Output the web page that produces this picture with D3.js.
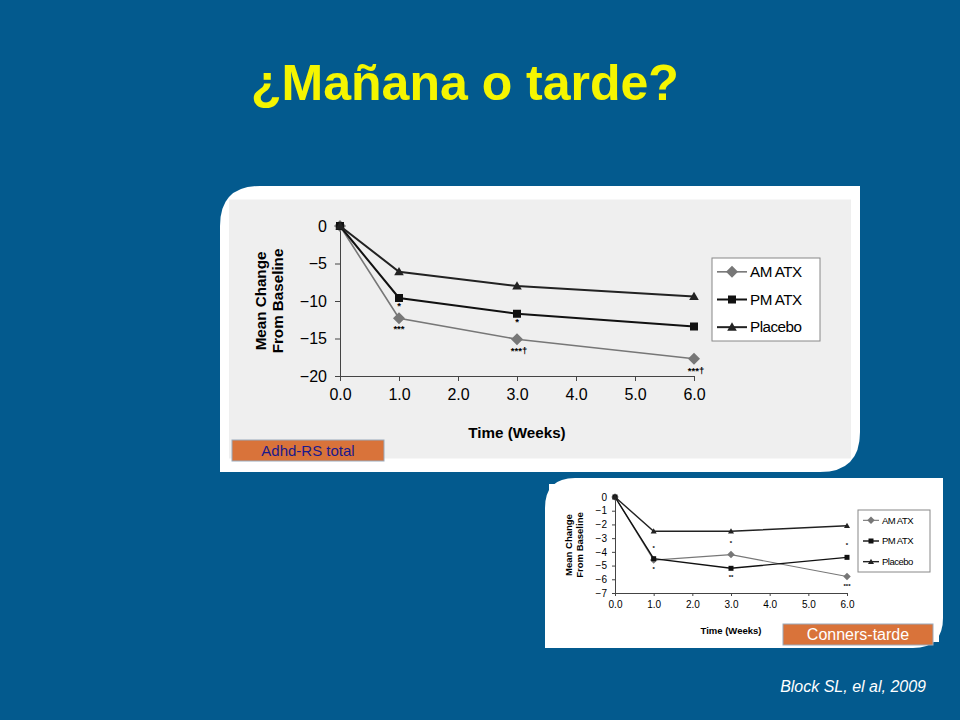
<!DOCTYPE html><html><head><meta charset="utf-8"><script src="https://cdn.jsdelivr.net/npm/d3@7"></script>
<style>body{margin:0;background:#035a8e}svg{display:block}text{font-family:Arial,"Liberation Sans",sans-serif}</style></head><body>
<svg id="s" width="960" height="720"></svg>
<script>
const weeks=[0,1,3,6];
const seriesNames=["AM ATX","PM ATX","Placebo"];
const adhdAM=[0,-12.3,-15.1,-17.7], adhdPM=[0,-9.6,-11.7,-13.4], adhdPl=[0,-6.1,-8.0,-9.4];
const adhdMarks=[[1,-12.3,"***",14],[1,-9.6,"*",11],[3,-11.7,"*",11],[3,-15.1,"***†",15],[6,-17.7,"***†",15]];
const connAM=[0,-4.6,-4.2,-5.8], connPM=[0,-4.5,-5.2,-4.4], connPl=[0,-2.5,-2.5,-2.1];
const connMarks=[[1,-4.5,"*",-9],[1,-4.6,"*",11],[3,-4.2,"*",-10],[3,-5.2,"**",11],[6,-4.4,"*",-10],[6,-5.8,"***",11]];
const xTicks=[0,1,2,3,4,5,6];
const adhdYTicks=[0,-5,-10,-15,-20], connYTicks=[0,-1,-2,-3,-4,-5,-6,-7];
const svg=d3.select("#s");
svg.append("rect").attr("width",960).attr("height",720).attr("fill","#035a8e");
svg.append("text").attr("x",465).attr("y",100).attr("text-anchor","middle").attr("fill","#f5f500").attr("font-size",50).attr("font-weight","bold").text("¿Mañana o tarde?");
svg.append("text").attr("x",926).attr("y",692).attr("text-anchor","end").attr("fill","#fff").attr("font-size",16).attr("font-style","italic").text("Block SL, el al, 2009");

function panel(o){
  const g=svg.append("g");
  g.append("path").attr("d",`M${o.px+o.r},${o.py}H${o.px+o.pw}V${o.py+o.ph-o.r}Q${o.px+o.pw},${o.py+o.ph} ${o.px+o.pw-o.r},${o.py+o.ph}H${o.px}V${o.py+o.r}Q${o.px},${o.py} ${o.px+o.r},${o.py}Z`).attr("fill","#fff");
  g.append("rect").attr("x",o.px+o.in).attr("y",o.py+o.in*1.5).attr("width",o.pw-o.in*2).attr("height",o.ph-o.in*3).attr("fill",o.bg);
  const x=d3.scaleLinear().domain([0,6]).range(o.xr), y=d3.scaleLinear().domain(o.yd).range(o.yr);
  g.append("g").attr("transform",`translate(0,${o.yr[0]})`).call(d3.axisBottom(x).tickValues(xTicks).tickSize(o.ts).tickPadding(o.tp)).call(a=>{a.select(".domain").attr("stroke","#444");a.selectAll("line").attr("stroke","#444");a.selectAll("text").attr("font-size",o.fs).attr("fill","#000");});
  g.append("g").attr("transform",`translate(${o.xr[0]},0)`).call(d3.axisLeft(y).tickValues(o.yt).tickSize(o.ts).tickPadding(o.tp).tickFormat(d=>d<0?"−"+(-d):d)).call(a=>{a.select(".domain").attr("stroke","#444");a.selectAll("line").attr("stroke","#444");a.selectAll("text").attr("font-size",o.fs).attr("fill","#000");});
  g.append("text").attr("x",(o.xr[0]+o.xr[1])/2).attr("y",o.xl).attr("text-anchor","middle").attr("font-weight","bold").attr("font-size",o.fs*0.95).text("Time (Weeks)");
  const yt=g.append("text").attr("transform",`translate(${o.yl},${(o.yr[0]+o.yr[1])/2}) rotate(-90)`).attr("text-anchor","middle").attr("font-weight","bold").attr("font-size",o.fs*0.95);
  yt.append("tspan").attr("x",0).attr("dy",0).text("Mean Change");
  yt.append("tspan").attr("x",0).attr("dy",o.fs*1.05).text("From Baseline");
  const line=d3.line().x((d,i)=>x(weeks[i])).y(d=>y(d));
  const cols=["#777","#111","#222"], sh=["diamond","square","triangle"], sw=[o.lw*0.8,o.lw,o.lw];
  function mark(gg,cx,cy,k){
    const s=o.ms;
    if(k==0) gg.append("path").attr("d",`M${cx},${cy-s*0.75}L${cx+s*0.75},${cy}L${cx},${cy+s*0.75}L${cx-s*0.75},${cy}Z`).attr("fill",cols[0]);
    else if(k==1) gg.append("rect").attr("x",cx-s/2).attr("y",cy-s/2).attr("width",s).attr("height",s).attr("fill",cols[1]);
    else gg.append("path").attr("d",`M${cx},${cy-s*0.6}L${cx+s*0.6},${cy+s*0.45}L${cx-s*0.6},${cy+s*0.45}Z`).attr("fill",cols[2]);
  }
  o.data.forEach((d,k)=>{
    g.append("path").attr("d",line(d)).attr("fill","none").attr("stroke",cols[k]).attr("stroke-width",sw[k]);
    d.forEach((v,i)=>mark(g,x(weeks[i]),y(v),k));
  });
  o.marks.forEach(m=>g.append("text").attr("x",x(m[0])+(m[2].includes("†")?2:0)).attr("y",y(m[1])+m[3]).attr("text-anchor","middle").attr("font-size",o.fs*0.6).attr("font-weight","bold").text(m[2]));
  const L=o.leg;
  g.append("rect").attr("x",L[0]).attr("y",L[1]).attr("width",L[2]).attr("height",L[3]).attr("fill","#fff").attr("stroke","#888");
  seriesNames.forEach((n,k)=>{
    const cy=L[1]+L[3]*(k+0.5)/3+ (k-1)*0; const lx=L[0]+5;
    g.append("line").attr("x1",lx).attr("x2",lx+L[4]).attr("y1",cy).attr("y2",cy).attr("stroke",cols[k]).attr("stroke-width",sw[k]);
    mark(g,lx+L[4]/2,cy,k);
    g.append("text").attr("x",lx+L[4]+3).attr("y",cy+o.fs*0.33).attr("font-size",o.fs*0.95).attr("letter-spacing",-0.5).text(n);
  });
  const T=o.tag;
  g.append("rect").attr("x",T[0]).attr("y",T[1]).attr("width",T[2]).attr("height",T[3]).attr("fill","#d9733a").attr("stroke","#9ab").attr("stroke-width",1);
  g.append("text").attr("x",T[0]+T[2]/2).attr("y",T[1]+T[3]*0.78).attr("text-anchor","middle").attr("fill",T[5]).attr("font-size",T[4]).text(T[6]);
}
panel({px:220,py:186,pw:640,ph:286,r:40,in:9,bg:"#efefef",xr:[340,694],yd:[-20,0],yr:[376,226],yt:adhdYTicks,ts:5,tp:8,fs:16,xl:438,yl:266,
  data:[adhdAM,adhdPM,adhdPl],marks:adhdMarks,lw:2,ms:8,leg:[712,258,108,83,30],tag:[232,440,152,21,15,"#1a1a8c","Adhd-RS total"]});
panel({px:545,py:478,pw:398,ph:170,r:30,in:4,bg:"#fff",xr:[615,847],yd:[-7,0],yr:[593,497],yt:connYTicks,ts:3,tp:5,fs:10,xl:634,yl:572,
  data:[connAM,connPM,connPl],marks:connMarks,lw:1.4,ms:5,leg:[858,510,72,62,16],tag:[783,624,150,21,16,"#fff","Conners-tarde"]});
</script></body></html>
